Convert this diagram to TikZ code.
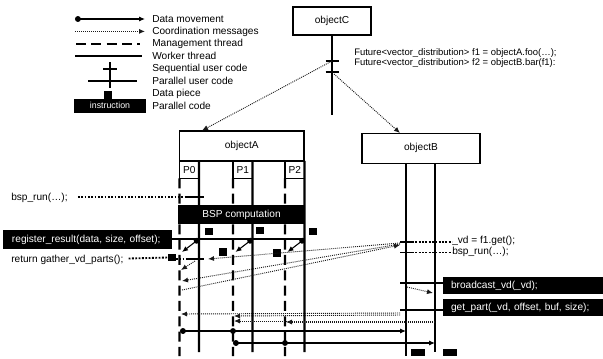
\documentclass[tikz,border=0pt]{standalone}
\usepackage{fontspec}
\setmainfont{Liberation Sans}
\usetikzlibrary{arrows.meta}
\definecolor{ThreadInk}{gray}{0}
\definecolor{MsgInk}{gray}{0.1}

\begin{document}
\begin{tikzpicture}[x=0.75pt,y=-0.75pt,
  font=\fontsize{7.6}{9}\selectfont,
  objbox/.style={draw=ThreadInk,line width=1.1pt,inner sep=0pt,outer sep=0pt},
  pbox/.style={draw=ThreadInk,line width=1.1pt,inner sep=0pt,outer sep=0pt,
               minimum width=14.6pt,minimum height=13pt},
  parcode/.style={fill=black,text=white,inner sep=0pt,outer sep=0pt},
  txt/.style={anchor=west,inner sep=0pt},
  piece/.style={fill=black,inner sep=0pt,minimum size=5.4pt},
  datamove/.style={line width=0.8pt,{Circle[length=4.4pt]}-{Latex[length=4.5pt,width=3.8pt]}},
  dataarrow/.style={line width=0.8pt,-{Latex[length=4.5pt,width=3.8pt]}},
  coordmsg/.style={draw=MsgInk,line width=0.7pt,dash pattern=on 0.7pt off 0.8pt,
                   -{Latex[length=4.5pt,width=3.8pt]}},
  callmsg/.style={line width=1.4pt,dash pattern=on 1.4pt off 1.1pt},
  mgmt/.style={line width=1.6pt,dash pattern=on 7.5pt off 4pt},
  worker/.style={line width=1.6pt},
  usercode/.style={line width=1.4pt},
]
  \useasboundingbox (0,0) rectangle (603,358);

  \foreach \txt [count=\i] in {Data movement,Coordination messages,Management thread,
      Worker thread,Sequential user code,Parallel user code,Data piece,Parallel code}{
    \node[txt] (leg\i) at (152,6.6+12.4*\i) {\txt};
    \coordinate (ls\i) at (75,6.6+12.4*\i);
    \coordinate (le\i) at (145,6.6+12.4*\i);
    \coordinate (lc\i) at (110,6.6+12.4*\i);
  }
  \draw[datamove] (ls1) -- (le1);
  \draw[coordmsg] (ls2) -- (le2);
  \draw[mgmt] ([shift={(1,0)}]ls3) -- ([shift={(-5,0)}]le3);
  \draw[worker] (ls4) -- ([shift={(-3,0)}]le4);
  \draw[usercode] ([shift={(0,-6.5)}]lc5) -- ([shift={(0,6.5)}]lc5)
                  ([shift={(-7,0)}]lc5) -- ([shift={(7,0)}]lc5);
  \draw[usercode] ([shift={(0,-6.5)}]lc6) -- ([shift={(0,6.5)}]lc6)
                  ([shift={(-22,0)}]lc6) -- ([shift={(27,0)}]lc6);
  \node[piece] (legpiece) at ([shift={(-2,1.5)}]lc7) {};
  \node[parcode,minimum width=54pt,minimum height=10.5pt,font=\fontsize{6.6}{8}\selectfont]
    (legins) at (lc8) {instruction};

  \node[objbox,minimum width=58.5pt,minimum height=21pt] (objC) at (332,21) {objectC};
  \coordinate (cEnd) at (332,115);
  \coordinate (cT1) at (332,61);
  \coordinate (cT2) at (332,72);
  \draw[worker] (objC.south) -- (cEnd);
  \draw[usercode] ([shift={(-6.5,0)}]cT1) -- ([shift={(6.5,0)}]cT1)
                  ([shift={(-6.5,0)}]cT2) -- ([shift={(6.5,0)}]cT2);
  \node[txt,font=\fontsize{7.1}{8.5}\selectfont] (futA) at (354,53)
    {Future<vector\_distribution> f1 = objectA.foo(…);};
  \node[txt,font=\fontsize{7.1}{8.5}\selectfont] (futB) at (354,63.5)
    {Future<vector\_distribution> f2 = objectB.bar(f1):};

  \node[objbox,minimum width=93.6pt,minimum height=22.5pt] (objA) at (241.7,146) {objectA};
  \node[objbox,minimum width=88.5pt,minimum height=22.5pt] (objB) at (421,148.3) {objectB};
  \coordinate (aCall) at (202,130.5);
  \coordinate (bCall) at (400,133);
  \draw[coordmsg] (cT1) -- (aCall);
  \draw[coordmsg] ([shift={(2,2)}]cT2) -- (bCall);

  \foreach \p/\m in {0/179.5,1/233,2/285}{
    \node[pbox] (P\p) at (\m+9.75,169.6) {P\p};
    \coordinate (mEnd\p) at (\m,356);
    \coordinate (wEnd\p) at (\m+19.5,352);
    \coordinate (wr\p) at (\m+19.5,239);
    \coordinate (mr\p) at (\m+2.5,252);
    \draw[mgmt] (P\p.south west) -- (mEnd\p);
    \draw[worker] (P\p.north east) -- (wEnd\p);
  }
  \coordinate (bLtop) at (406,163.3);
  \coordinate (bLend) at (406,356);
  \coordinate (bRtop) at (435,163.3);
  \coordinate (bRend) at (435,352);
  \draw[worker] (bLtop) -- (bLend);
  \draw[worker] (bRtop) -- (bRend);

  \node[parcode,minimum width=95.2pt,minimum height=14.3pt] (bsp) at (241.5,214.5) {BSP computation};

  \node[txt] (bsprunA) at (11,198) {bsp\_run(…);};
  \coordinate (aTick1) at (195,197);
  \draw[callmsg] ([shift={(10,-1)}]bsprunA.east) -- ([shift={(-9,0)}]aTick1);
  \draw[usercode] ([shift={(-9,0)}]aTick1) -- ([shift={(9,0)}]aTick1);

  \node[parcode,anchor=west,text width=113pt,align=left,inner xsep=6.75pt,minimum height=14.3pt]
    (regres) at (3,239.5) {register\_result(data, size, offset);};
  \draw[usercode] (regres.east |- wr2) -- (wr2);
  \foreach \p in {0,1,2}
    \draw[datamove] (wr\p) -- (mr\p);
  \node[piece] (dp1) at (209,231.5) {};
  \node[piece] (dp2) at (260,230.5) {};
  \node[piece] (dp3) at (313,231.5) {};
  \node[piece] (dp4) at (223,252) {};
  \node[piece] (dp5) at (277,253) {};

  \node[txt] (retg) at (11,259.5) {return gather\_vd\_parts();};
  \node[piece] (dp6) at (172,257.5) {};
  \coordinate (aTick2) at (195,259);
  \draw[callmsg] ([shift={(5,-1)}]retg.east) -- (dp6.west);
  \draw[callmsg] (dp6.east |- aTick2) -- ([shift={(-9,0)}]aTick2);
  \draw[usercode] ([shift={(-9,0)}]aTick2) -- ([shift={(9,0)}]aTick2);
  \coordinate (aIn2) at (181,270);
  \draw[coordmsg] ([shift={(0,2)}]aTick2) -- (aIn2);

  \coordinate (bGet) at (406,242);
  \coordinate (bRun) at (406,252.5);
  \node[txt] (getTxt) at (452,241) {\_vd = f1.get();};
  \node[txt] (runTxt) at (452,252) {bsp\_run(…);};
  \draw[usercode] ([shift={(-6,0)}]bGet) -- ([shift={(6,0)}]bGet)
                  ([shift={(-6,0)}]bRun) -- ([shift={(6,0)}]bRun);
  \draw[callmsg] ([shift={(6,0)}]bGet) -- (getTxt.west |- bGet);
  \draw[callmsg] ([shift={(6,0)}]bRun) -- (runTxt.west |- bRun);

  \coordinate (aRet) at (208,259);
  \coordinate (aIn3) at (182,281);
  \coordinate (aOut) at (182,290);
  \draw[coordmsg] ([shift={(-6,1)}]bGet) -- (aRet);
  \draw[coordmsg] ([shift={(-6,2)}]bGet) -- (aIn3);
  \draw[coordmsg] (aOut) -- ([shift={(-6,3)}]bGet);

  \node[parcode,anchor=west,text width=108pt,align=left,inner xsep=6pt,minimum height=12.8pt]
    (bcast) at (443,285.5) {broadcast\_vd(\_vd);};
  \node[parcode,anchor=west,text width=108pt,align=left,inner xsep=6pt,minimum height=12.8pt]
    (gpart) at (443,307.5) {get\_part(\_vd, offset, buf, size);};
  \coordinate (bBcL) at (400,283);
  \coordinate (bPartL) at (400,310);
  \draw[usercode] (bBcL) -- (bBcL -| bcast.west);
  \draw[usercode] (bPartL) -- (bPartL -| gpart.west);
  \coordinate (bBcA) at (407,287);
  \coordinate (bBcB) at (433,293);
  \draw[coordmsg] (bBcA) -- (bBcB);

  \coordinate (aP0) at (181,314);
  \coordinate (aP1) at (234,316);
  \coordinate (aP1b) at (234,321);
  \coordinate (aP2) at (286,322);
  \draw[coordmsg] ([shift={(0,3)}]bPartL) -- (aP0);
  \draw[coordmsg] ([shift={(0,5)}]bPartL) -- (aP1);
  \draw[coordmsg] (bRend |- aP1b) -- (aP1b);
  \draw[coordmsg] (bRend |- aP2) -- (aP2);

  \coordinate (aD0) at (180,331);
  \coordinate (aD1) at (233,331);
  \coordinate (aD1b) at (233,343);
  \coordinate (aD2) at (285,343);
  \draw[datamove] (aD0) -- (bLend |- aD0);
  \fill (aD1) circle (2.2pt);
  \draw[datamove] (aD1b) -- (bRend |- aD1b);
  \fill (aD2) circle (2.2pt);

  \node[piece,minimum width=10.5pt,minimum height=5.4pt] (bp1) at (418,352.5) {};
  \node[piece,minimum width=10.5pt,minimum height=5.4pt] (bp2) at (449.5,352.5) {};
\end{tikzpicture}
\end{document}
